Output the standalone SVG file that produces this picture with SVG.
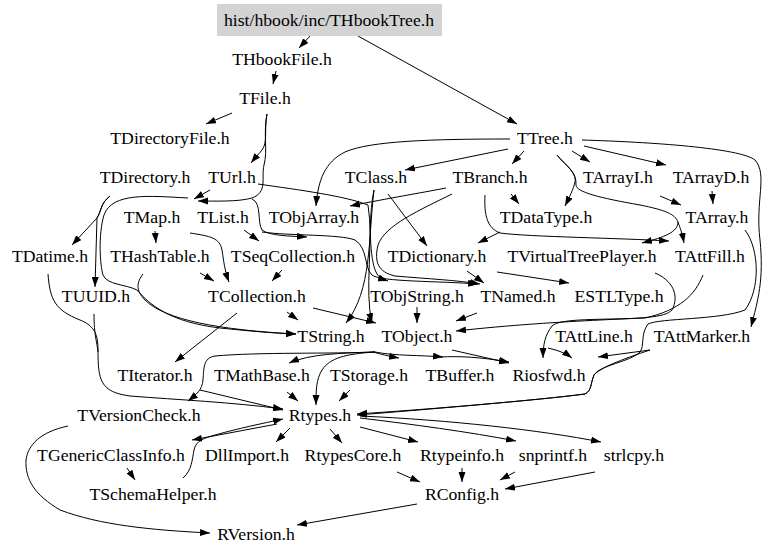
<svg xmlns="http://www.w3.org/2000/svg" width="768" height="555" viewBox="0 0 768 555">
<style>
text{font-family:'Liberation Serif','DejaVu Serif',serif;font-size:17.7px;fill:#000;text-anchor:middle}
.e{fill:none;stroke:#000;stroke-width:1;marker-end:url(#ah)}
.n{fill:none;stroke:#000;stroke-width:1}
</style>
<defs>
<marker id="ah" markerUnits="userSpaceOnUse" markerWidth="10" markerHeight="8" refX="10" refY="3.5" orient="auto">
<path d="M0,0 L10,3.5 L0,7 z" fill="#000"/>
</marker>
</defs>
<rect width="768" height="555" fill="#fff"/>
<g id="edges">
<path class="e" d="M310,36 L299,48"/>
<path class="e" d="M358,36 L517,124"/>
<path class="e" d="M276,71 L273,84"/>
<path class="e" d="M232,113 L206,124"/>
<path class="e" d="M267,114 C264,130 268,142 262,150 C258,155 255,158 251,163"/>
<path class="e" d="M267,114 C263,135 268,150 264,165 C261,178 268,192 252,198 C238,202 215,201 198,201"/>
<path class="e" d="M210,190 L194,199"/>
<path class="e" d="M508,149 L405,170"/>
<path class="e" d="M524,151 L512,164"/>
<path class="e" d="M572,151 L590,162"/>
<path class="e" d="M584,146 L666,165"/>
<path class="e" d="M510,139 C430,139 370,141 345,152 C325,162 318,180 316,206"/>
<path class="e" d="M582,140 C650,142 740,148 755,160 C768,175 755,200 760,240 C764,280 758,300 751,327"/>
<path class="e" d="M557,155 C565,165 577,172 575,182 C573,190 570,196 565,206"/>
<path class="e" d="M557,155 C565,165 577,172 576,185 C576,192 600,198 640,205 C665,210 675,214 678,222 C680,228 682,232 684,243"/>
<path class="e" d="M678,222 C678,232 665,237 642,243"/>
<path class="e" d="M660,196 L681,205"/>
<path class="e" d="M712,191 L713,204"/>
<path class="e" d="M511,194 L519,204"/>
<path class="e" d="M485,195 C484,215 487,228 500,233 C530,237 620,238 669,241"/>
<path class="e" d="M500,232 L478,243"/>
<path class="e" d="M446,188 C420,193 390,198 350,206"/>
<path class="e" d="M258,184 C300,190 345,196 368,205 C374,240 364,290 372,323"/>
<path class="e" d="M452,194 C420,210 385,225 378,245 C374,262 378,272 395,276 C430,279 455,280 480,284"/>
<path class="e" d="M388,194 L427,246"/>
<path class="e" d="M374,190 C368,220 370,260 376,272 C379,278 382,279 388,281"/>
<path class="e" d="M374,190 C368,240 372,290 346,323"/>
<path class="e" d="M252,199 C262,203 257,222 262,230 C270,236 290,236 307,237"/>
<path class="e" d="M262,232 C290,236 340,234 355,240 C368,248 364,268 372,275 C380,282 440,281 478,284"/>
<path class="e" d="M244,230 L259,241"/>
<path class="e" d="M110,196 C100,204 102,210 97,218 L72,245"/>
<path class="e" d="M110,196 C100,204 102,210 97,218 L95,287"/>
<path class="e" d="M48,274 C50,300 55,310 80,320 C95,326 98,335 98,350 C98,380 100,392 130,396 C180,400 230,402 283,409"/>
<path class="n" d="M94,314 C94,335 97,342 98,352"/>
<path class="e" d="M200,390 L283,410"/>
<path class="e" d="M287,392 L298,401"/>
<path class="e" d="M350,390 L339,401"/>
<path class="e" d="M375,352 C345,354 330,358 322,370 C316,380 316,390 316,405"/>
<path class="e" d="M375,352 C330,354 260,352 215,356 C203,358 204,368 203,380 C202,390 197,394 188,401"/>
<path class="e" d="M375,352 C340,353 310,354 289,363"/>
<path class="e" d="M373,352 C380,354 388,356 399,358"/>
<path class="e" d="M375,352 C395,356 420,355 443,357"/>
<path class="e" d="M440,357 C460,356 480,357 509,362"/>
<path class="e" d="M452,350 L509,363"/>
<path class="e" d="M237,313 L175,362"/>
<path class="e" d="M287,312 L298,320"/>
<path class="e" d="M313,308 L376,323"/>
<path class="e" d="M143,274 C137,282 135,290 145,300 C165,320 220,330 296,334"/>
<path class="e" d="M188,198 C150,196 112,192 104,215 C98,235 100,265 103,275 C107,285 125,284 137,290 C150,305 170,322 220,328 C250,331 270,333 296,334"/>
<path class="e" d="M155,231 L156,243"/>
<path class="e" d="M190,233 C210,236 220,238 222,250 C224,262 224,268 229,282"/>
<path class="e" d="M200,273 L214,281"/>
<path class="e" d="M282,270 L272,281"/>
<path class="e" d="M417,307 L417,323"/>
<path class="e" d="M477,313 L456,321"/>
<path class="e" d="M497,272 L569,283"/>
<path class="e" d="M467,271 L484,283"/>
<path class="e" d="M655,273 C672,280 680,295 672,310 C665,318 640,318 600,320 C560,322 510,325 456,331"/>
<path class="e" d="M703,275 C695,295 680,310 645,318 C600,320 560,318 552,326 C545,335 543,345 543,358"/>
<path class="e" d="M745,230 C760,250 760,290 745,310 C720,320 660,318 648,324 C640,335 645,345 640,352 C630,362 600,365 594,375 C590,385 592,390 585,394 C540,400 420,410 357,414"/>
<path class="e" d="M650,350 L598,357"/>
<path class="e" d="M650,350 C620,360 600,368 594,375 C590,385 592,390 585,394 C540,400 420,410 357,415"/>
<path class="e" d="M548,348 C556,350 564,352 572,358"/>
<path class="e" d="M277,424 L192,440"/>
<path class="e" d="M183,478 C192,470 192,460 194,450 C196,440 205,438 215,435 C240,428 260,424 283,419"/>
<path class="e" d="M290,428 L276,442"/>
<path class="e" d="M330,429 L342,443"/>
<path class="e" d="M360,427 L418,442"/>
<path class="e" d="M360,418 C410,424 470,432 516,441"/>
<path class="e" d="M360,416 C450,420 540,430 601,442"/>
<path class="e" d="M127,468 L135,480"/>
<path class="e" d="M68,426 C40,432 28,445 26,460 C25,480 35,495 60,510 C100,525 150,530 210,533"/>
<path class="e" d="M417,504 L297,525"/>
<path class="e" d="M397,472 L420,482"/>
<path class="e" d="M462,468 L462,482"/>
<path class="e" d="M515,472 L500,480"/>
<path class="e" d="M595,472 L505,489"/>
</g>
<g font-family="'Liberation Serif', 'DejaVu Serif', serif" font-size="17.7">
<g id="node-THbookTree"><rect x="217" y="4" width="225" height="32" fill="#d3d3d3"/><text x="329" y="26">hist/hbook/inc/THbookTree.h</text></g>
<g id="node-THbookFile"><text x="282" y="65">THbookFile.h</text></g>
<g id="node-TFile"><text x="265" y="104">TFile.h</text></g>
<g id="node-TDirectoryFile"><text x="170" y="144">TDirectoryFile.h</text></g>
<g id="node-TTree"><text x="545" y="144">TTree.h</text></g>
<g id="node-TDirectory"><text x="145" y="183">TDirectory.h</text></g>
<g id="node-TUrl"><text x="232" y="183">TUrl.h</text></g>
<g id="node-TClass"><text x="376" y="183">TClass.h</text></g>
<g id="node-TBranch"><text x="490" y="183">TBranch.h</text></g>
<g id="node-TArrayI"><text x="618" y="183">TArrayI.h</text></g>
<g id="node-TArrayD"><text x="711" y="183">TArrayD.h</text></g>
<g id="node-TMap"><text x="152" y="223">TMap.h</text></g>
<g id="node-TList"><text x="223" y="223">TList.h</text></g>
<g id="node-TObjArray"><text x="314" y="223">TObjArray.h</text></g>
<g id="node-TDataType"><text x="546" y="223">TDataType.h</text></g>
<g id="node-TArray"><text x="717" y="223">TArray.h</text></g>
<g id="node-TDatime"><text x="50" y="262">TDatime.h</text></g>
<g id="node-THashTable"><text x="160" y="262">THashTable.h</text></g>
<g id="node-TSeqCollection"><text x="293" y="262">TSeqCollection.h</text></g>
<g id="node-TDictionary"><text x="437" y="262">TDictionary.h</text></g>
<g id="node-TVirtualTreePlayer"><text x="582" y="262">TVirtualTreePlayer.h</text></g>
<g id="node-TAttFill"><text x="710" y="262">TAttFill.h</text></g>
<g id="node-TUUID"><text x="96" y="302">TUUID.h</text></g>
<g id="node-TCollection"><text x="257" y="302">TCollection.h</text></g>
<g id="node-TObjString"><text x="417" y="302">TObjString.h</text></g>
<g id="node-TNamed"><text x="518" y="302">TNamed.h</text></g>
<g id="node-ESTLType"><text x="619" y="302">ESTLType.h</text></g>
<g id="node-TString"><text x="331" y="342">TString.h</text></g>
<g id="node-TObject"><text x="417" y="342">TObject.h</text></g>
<g id="node-TAttLine"><text x="594" y="342">TAttLine.h</text></g>
<g id="node-TAttMarker"><text x="702" y="342">TAttMarker.h</text></g>
<g id="node-TIterator"><text x="155" y="381">TIterator.h</text></g>
<g id="node-TMathBase"><text x="262" y="381">TMathBase.h</text></g>
<g id="node-TStorage"><text x="369" y="381">TStorage.h</text></g>
<g id="node-TBuffer"><text x="460" y="381">TBuffer.h</text></g>
<g id="node-Riosfwd"><text x="549" y="381">Riosfwd.h</text></g>
<g id="node-TVersionCheck"><text x="139" y="421">TVersionCheck.h</text></g>
<g id="node-Rtypes"><text x="320" y="421">Rtypes.h</text></g>
<g id="node-TGenericClassInfo"><text x="111" y="461">TGenericClassInfo.h</text></g>
<g id="node-DllImport"><text x="247" y="461">DllImport.h</text></g>
<g id="node-RtypesCore"><text x="353" y="461">RtypesCore.h</text></g>
<g id="node-Rtypeinfo"><text x="462" y="461">Rtypeinfo.h</text></g>
<g id="node-snprintf"><text x="553" y="461">snprintf.h</text></g>
<g id="node-strlcpy"><text x="634" y="461">strlcpy.h</text></g>
<g id="node-TSchemaHelper"><text x="153" y="500">TSchemaHelper.h</text></g>
<g id="node-RConfig"><text x="462" y="500">RConfig.h</text></g>
<g id="node-RVersion"><text x="256" y="540">RVersion.h</text></g>
</g>
</svg>
